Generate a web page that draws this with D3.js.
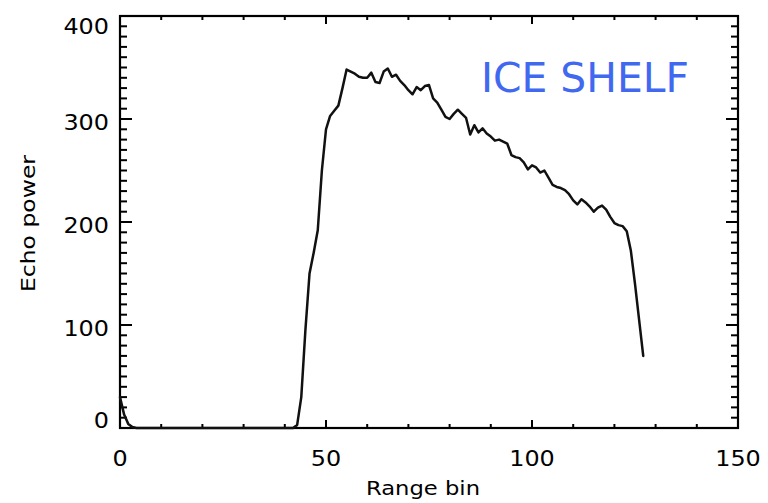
<!DOCTYPE html>
<html>
<head>
<meta charset="utf-8">
<script src="https://cdn.jsdelivr.net/npm/d3@7"></script>
<style>
  html, body { margin: 0; padding: 0; background: #fff; }
  svg { display: block; }
  text { font-family: "DejaVu Sans", Verdana, sans-serif; fill: #000; }
</style>
</head>
<body>
<svg id="chart" width="768" height="503"></svg>
<script>
// Echo power waveform over range bins 0..127
const echoPower = [
  30, 13, 4, 1, 0, 0, 0, 0, 0, 0,
  0, 0, 0, 0, 0, 0, 0, 0, 0, 0,
  0, 0, 0, 0, 0, 0, 0, 0, 0, 0,
  0, 0, 0, 0, 0, 0, 0, 0, 0, 0,
  0, 0, 0, 3, 30, 95, 150, 170, 192, 250,
  290, 303, 308, 313, 330, 348, 346, 344, 341, 340,
  340, 345, 336, 335, 346, 349, 341, 343, 337, 333,
  328, 324, 331, 328, 332, 333, 320, 316, 309, 302,
  300, 305, 309, 305, 301, 285, 294, 287, 291, 286,
  283, 279, 280, 278, 276, 265, 263, 262, 258, 251,
  255, 253, 248, 250, 243, 236, 234, 233, 231, 227,
  221, 217, 222, 219, 215, 210, 214, 216, 212, 205,
  199, 197, 196, 191, 172, 140, 105, 70
];
const rangeBins = echoPower.map((_, i) => i);

const xMajorTicks = [0, 50, 100, 150];
const yMajorTicks = [0, 100, 200, 300, 400];
const xMinorStep = 10;
const yMinorStep = 10;
const xDomain = [0, 150];
const yDomain = [0, 400];
const xTitle = "Range bin";
const yTitle = "Echo power";
const annotation = "ICE SHELF";

const svg = d3.select("#chart");
const plotL = 120, plotR = 738, plotT = 16, plotB = 428;

const x = d3.scaleLinear().domain(xDomain).range([plotL, plotR]);
const y = d3.scaleLinear().domain(yDomain).range([plotB, plotT]);

const xMinor = d3.range(xDomain[0], xDomain[1] + 1, xMinorStep).filter(v => !xMajorTicks.includes(v));
const yMinor = d3.range(yDomain[0], yDomain[1] + 1, yMinorStep).filter(v => !yMajorTicks.includes(v));

// tick marks drawn inward on all four sides
const tickG = svg.append("g").attr("stroke", "#000").attr("stroke-width", 2);
const xMajLen = 8, xMinLen = 4, yMajLen = 12, yMinLen = 7;
function xTicks(vals, len) {
  vals.forEach(v => {
    tickG.append("line").attr("x1", x(v)).attr("x2", x(v)).attr("y1", plotB).attr("y2", plotB - len);
    tickG.append("line").attr("x1", x(v)).attr("x2", x(v)).attr("y1", plotT).attr("y2", plotT + len);
  });
}
function yTicks(vals, len) {
  vals.forEach(v => {
    tickG.append("line").attr("y1", y(v)).attr("y2", y(v)).attr("x1", plotL).attr("x2", plotL + len);
    tickG.append("line").attr("y1", y(v)).attr("y2", y(v)).attr("x1", plotR).attr("x2", plotR - len);
  });
}
xTicks(xMajorTicks, xMajLen);
xTicks(xMinor, xMinLen);
yTicks(yMajorTicks, yMajLen);
yTicks(yMinor, yMinLen);

// plot frame
svg.append("rect")
  .attr("x", plotL).attr("y", plotT)
  .attr("width", plotR - plotL).attr("height", plotB - plotT)
  .attr("fill", "none").attr("stroke", "#000").attr("stroke-width", 2.2);

// tick labels
const labelSize = 22;
const digitW = 15.2;
svg.append("g").selectAll("text")
  .data(xMajorTicks).join("text")
  .attr("x", d => x(d)).attr("y", 466)
  .attr("text-anchor", "middle")
  .attr("font-size", labelSize)
  .attr("textLength", d => String(d).length * digitW)
  .attr("lengthAdjust", "spacingAndGlyphs")
  .text(d => d);

const halfH = 8;
svg.append("g").selectAll("text")
  .data(yMajorTicks).join("text")
  .attr("x", 109)
  .attr("y", d => Math.min(Math.max(y(d) + 2.5, plotT + 2 + halfH), plotB - halfH) + halfH)
  .attr("text-anchor", "end")
  .attr("font-size", labelSize)
  .attr("textLength", d => String(d).length * digitW)
  .attr("lengthAdjust", "spacingAndGlyphs")
  .text(d => d);

// axis titles
svg.append("text")
  .attr("x", 423).attr("y", 495)
  .attr("text-anchor", "middle")
  .attr("font-size", 19)
  .attr("textLength", 114)
  .attr("lengthAdjust", "spacingAndGlyphs")
  .text(xTitle);

svg.append("text")
  .attr("transform", "translate(35,223.5) rotate(-90)")
  .attr("text-anchor", "middle")
  .attr("font-size", 19)
  .attr("textLength", 137)
  .attr("lengthAdjust", "spacingAndGlyphs")
  .text(yTitle);

// waveform
const line = d3.line()
  .x((d, i) => x(rangeBins[i]))
  .y(d => y(d));
svg.append("path")
  .attr("d", line(echoPower))
  .attr("fill", "none")
  .attr("stroke", "#111")
  .attr("stroke-width", 2.5)
  .attr("stroke-linejoin", "round")
  .attr("stroke-linecap", "round");

// surface type annotation
svg.append("text")
  .attr("x", 481).attr("y", 92)
  .attr("font-size", 40)
  .attr("textLength", 208)
  .attr("lengthAdjust", "spacingAndGlyphs")
  .style("fill", "#4169f0")
  .text(annotation);
</script>
</body>
</html>
